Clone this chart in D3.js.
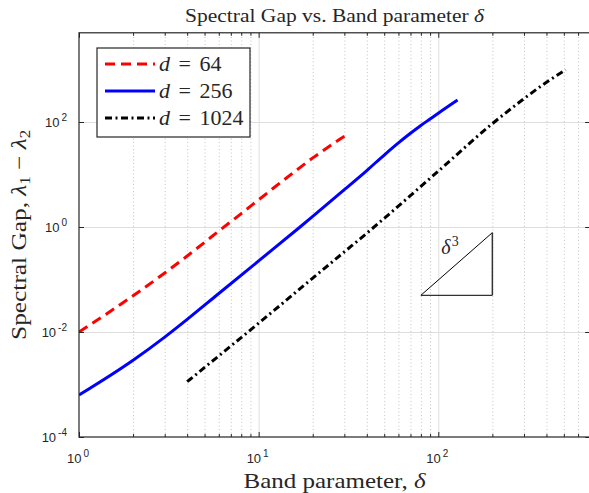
<!DOCTYPE html>
<html>
<head>
<meta charset="utf-8">
<script src="https://cdn.jsdelivr.net/npm/d3@7"></script>
<style>
  body { margin: 0; background: #fff; }
  svg { display: block; }
  .serif { font-family: "Liberation Serif", "DejaVu Serif", serif; fill: #262626; }
  .tick-label { font-family: "Liberation Sans", Arial, sans-serif; font-size: 13px; fill: #262626; }
</style>
</head>
<body>
<div id="chart"></div>
<script>
// band parameter delta and spectral gap for each d
const delta64 = [1, 2, 3, 4, 5, 6, 8, 10, 12, 16, 20, 24, 28, 32];
const gap64 = [0.01, 0.049, 0.133, 0.28, 0.51, 0.84, 1.8, 3.3, 5.4, 11.6, 20.7, 32, 45.8, 61.5];

const delta256 = [1, 2, 3, 4, 5, 6, 10, 17, 20, 30, 40, 50, 60, 70, 80, 90, 100, 128];
const gap256 = [6.3e-4, 2.9e-3, 8.0e-3, 0.0174, 0.0325, 0.0541, 0.226, 1.0, 1.59, 5.15, 11.9, 23.5, 40, 61, 86, 114, 147, 262];

const delta1024 = [4, 6, 10, 20, 30, 40, 50, 100, 200, 300, 400, 512];
const gap1024 = [1.13e-3, 3.51e-3, 0.0147, 0.106, 0.336, 0.762, 1.46, 11.6, 93, 278, 571, 983];

const seriesNames = ['d = 64', 'd = 256', 'd = 1024'];

// axis limits and ticks
const xDomain = [1, 700];
const yDomain = [1e-4, 5e3];
const xMajor = [1, 10, 100];
const xMajorExp = ['0', '1', '2'];
const yMajor = [1e-4, 1e-2, 1, 1e2];
const yMajorExp = ['-4', '-2', '0', '2'];

// slope triangle (delta^3 reference)
const triX = [80, 200];
const triY0 = 0.05;

function chartInit() {
  const width = 589;
  const height = 493;

  const left = 79;
  const right = 590.1;
  const top = 32.8;
  const bottom = 437;

  const svg = d3.select('#chart')
    .append('svg')
    .attr('width', width)
    .attr('height', height);

  const x = d3.scaleLog().domain(xDomain).range([left, right]);
  const y = d3.scaleLog().domain(yDomain).range([bottom, top]);

  // minor x ticks: 2..9 in each decade
  const xMinor = [];
  [1, 10, 100].forEach((dec) => {
    for (let k = 2; k <= 9; k += 1) {
      if (k * dec <= xDomain[1]) xMinor.push(k * dec);
    }
  });

  // grid
  svg.append('g')
    .attr('class', 'grid minor')
    .attr('transform', `translate(0, ${bottom})`)
    .call(d3.axisBottom(x).tickValues(xMinor).tickSize(-(bottom - top)).tickFormat(''))
    .call((g) => g.select('.domain').remove())
    .selectAll('line')
    .attr('stroke', '#c4c4c4')
    .attr('stroke-dasharray', '1,2.5');

  svg.append('g')
    .attr('class', 'grid major')
    .attr('transform', `translate(0, ${bottom})`)
    .call(d3.axisBottom(x).tickValues([10, 100]).tickSize(-(bottom - top)).tickFormat(''))
    .call((g) => g.select('.domain').remove())
    .selectAll('line')
    .attr('stroke', '#dedede');

  svg.append('g')
    .attr('class', 'grid major')
    .attr('transform', `translate(${left}, 0)`)
    .call(d3.axisLeft(y).tickValues([1e-2, 1, 1e2]).tickSize(-(right - left)).tickFormat(''))
    .call((g) => g.select('.domain').remove())
    .selectAll('line')
    .attr('stroke', '#dedede');

  // data lines
  const line = d3.line()
    .x((d) => x(d[0]))
    .y((d) => y(d[1]))
    .curve(d3.curveMonotoneX);

  const series = [
    { name: seriesNames[0], pts: d3.zip(delta64, gap64), color: '#ff0000', dash: '10,6' },
    { name: seriesNames[1], pts: d3.zip(delta256, gap256), color: '#0000ff', dash: null },
    { name: seriesNames[2], pts: d3.zip(delta1024, gap1024), color: '#000000', dash: '7,3.5,2,3.5' },
  ];

  svg.append('defs').append('clipPath')
    .attr('id', 'clip')
    .append('rect')
    .attr('x', left)
    .attr('y', top)
    .attr('width', right - left)
    .attr('height', bottom - top);

  svg.append('g')
    .attr('clip-path', 'url(#clip)')
    .selectAll('path')
    .data(series)
    .join('path')
    .attr('d', (s) => line(s.pts))
    .attr('fill', 'none')
    .attr('stroke', (s) => s.color)
    .attr('stroke-width', 3)
    .attr('stroke-linejoin', 'round')
    .attr('stroke-dasharray', (s) => s.dash);

  // slope triangle
  const triTop = triY0 * (triX[1] / triX[0]) ** 3;
  const tri = svg.append('g').attr('stroke', '#000').attr('fill', 'none').attr('stroke-width', 1);
  tri.append('line')
    .attr('x1', x(triX[0])).attr('y1', y(triY0))
    .attr('x2', x(triX[1])).attr('y2', y(triTop));
  tri.append('line')
    .attr('x1', x(triX[0])).attr('y1', y(triY0))
    .attr('x2', x(triX[1])).attr('y2', y(triY0));
  tri.append('line')
    .attr('x1', x(triX[1])).attr('y1', y(triY0))
    .attr('x2', x(triX[1])).attr('y2', y(triTop))
    .attr('stroke', '#333')
    .attr('stroke-width', 1.5);

  // label with a white halo, it cuts the hypotenuse a little like the original
  const triLabel = svg.append('text')
    .attr('class', 'serif')
    .attr('x', x(104))
    .attr('y', y(0.3))
    .attr('font-size', 20)
    .attr('fill', '#000')
    .attr('stroke', '#fff')
    .attr('stroke-width', 3)
    .attr('paint-order', 'stroke');
  triLabel.append('tspan').attr('font-style', 'italic').text('δ');
  triLabel.append('tspan').attr('dx', 1).attr('dy', -8).attr('font-size', 14).text('3');

  // ticks (inward) on all four sides
  const tickColor = '#262626';
  const tickAxes = [
    { gen: d3.axisBottom, pos: `translate(0, ${bottom})`, scale: x, vals: xMajor, size: -5 },
    { gen: d3.axisBottom, pos: `translate(0, ${bottom})`, scale: x, vals: xMinor, size: -3 },
    { gen: d3.axisTop, pos: `translate(0, ${top})`, scale: x, vals: xMajor, size: -5 },
    { gen: d3.axisTop, pos: `translate(0, ${top})`, scale: x, vals: xMinor, size: -3 },
    { gen: d3.axisLeft, pos: `translate(${left}, 0)`, scale: y, vals: yMajor, size: -5 },
    { gen: d3.axisRight, pos: `translate(${right}, 0)`, scale: y, vals: yMajor, size: -5 },
  ];
  tickAxes.forEach((a) => {
    svg.append('g')
      .attr('transform', a.pos)
      .call(a.gen(a.scale).tickValues(a.vals).tickSize(a.size).tickFormat(''))
      .call((g) => g.select('.domain').remove())
      .selectAll('line')
      .attr('stroke', tickColor);
  });

  // axes box
  svg.append('rect')
    .attr('x', left)
    .attr('y', top)
    .attr('width', right - left)
    .attr('height', bottom - top)
    .attr('fill', 'none')
    .attr('stroke', tickColor)
    .attr('stroke-width', 1.2);

  // tick labels 10^k
  xMajor.forEach((v, i) => {
    const t = svg.append('text')
      .attr('class', 'tick-label')
      .attr('x', x(v) - 1)
      .attr('y', bottom + 26)
      .attr('text-anchor', 'middle');
    t.append('tspan').text('10');
    t.append('tspan').attr('dx', 2).attr('dy', -6).attr('font-size', 10).text(xMajorExp[i]);
  });

  yMajor.forEach((v, i) => {
    const t = svg.append('text')
      .attr('class', 'tick-label')
      .attr('x', left - 12)
      .attr('y', y(v) + 5)
      .attr('text-anchor', 'end');
    t.append('tspan').text('10');
    t.append('tspan').attr('dx', 2).attr('dy', -6).attr('font-size', 10).text(yMajorExp[i]);
  });

  // title (stretched to the width of the LaTeX font)
  const title = svg.append('text')
    .attr('class', 'serif')
    .attr('x', (left + right) / 2)
    .attr('y', 22)
    .attr('text-anchor', 'middle')
    .attr('font-size', 18)
    .attr('textLength', 299)
    .attr('lengthAdjust', 'spacingAndGlyphs');
  title.append('tspan').text('Spectral Gap vs. Band parameter ');
  title.append('tspan').attr('font-style', 'italic').text('δ');

  // x label
  const xLabel = svg.append('text')
    .attr('class', 'serif')
    .attr('x', (left + right) / 2)
    .attr('y', 488)
    .attr('text-anchor', 'middle')
    .attr('font-size', 21)
    .attr('textLength', 182)
    .attr('lengthAdjust', 'spacingAndGlyphs');
  xLabel.append('tspan').text('Band parameter, ');
  xLabel.append('tspan').attr('font-style', 'italic').text('δ');

  // y label
  const yLabel = svg.append('text')
    .attr('class', 'serif')
    .attr('transform', `translate(26, ${(top + bottom) / 2}) rotate(-90)`)
    .attr('text-anchor', 'middle')
    .attr('font-size', 21)
    .attr('textLength', 210)
    .attr('lengthAdjust', 'spacingAndGlyphs');
  yLabel.append('tspan').text('Spectral Gap, ');
  yLabel.append('tspan').attr('font-style', 'italic').text('λ');
  yLabel.append('tspan').attr('dy', 4).attr('font-size', 14).text('1');
  yLabel.append('tspan').attr('dy', -4).text(' − ');
  yLabel.append('tspan').attr('font-style', 'italic').text('λ');
  yLabel.append('tspan').attr('dy', 4).attr('font-size', 14).text('2');

  // legend
  const legend = svg.append('g').attr('transform', 'translate(97, 48)');
  legend.append('rect')
    .attr('width', 153)
    .attr('height', 89)
    .attr('fill', '#fff')
    .attr('stroke', tickColor)
    .attr('stroke-width', 1.2);

  series.forEach((s, i) => {
    const ly = 16 + i * 27;
    legend.append('line')
      .attr('x1', 8)
      .attr('x2', 58)
      .attr('y1', ly)
      .attr('y2', ly)
      .attr('stroke', s.color)
      .attr('stroke-width', 3)
      .attr('stroke-dasharray', s.dash);
    const t = legend.append('text')
      .attr('class', 'serif')
      .attr('x', 62)
      .attr('y', ly + 7)
      .attr('font-size', 22)
      .attr('fill', '#000');
    const parts = s.name.split(' = ');
    t.append('tspan').attr('font-style', 'italic').text(parts[0]);
    t.append('tspan').attr('dx', 8.5).text('=');
    t.append('tspan').attr('dx', 8.5).text(parts[1]);
  });
}

window.onload = chartInit;
</script>
</body>
</html>
